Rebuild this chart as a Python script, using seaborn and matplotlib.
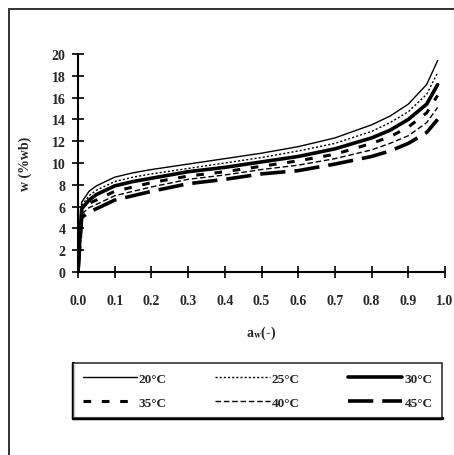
import numpy as np
import pandas as pd
import matplotlib
matplotlib.use("Agg")
import matplotlib.pyplot as plt
from matplotlib.lines import Line2D
import seaborn as sns

# ---- data ----
aw = [0, 0.01, 0.03, 0.05, 0.1, 0.15, 0.2, 0.3, 0.4, 0.5, 0.6, 0.7, 0.8, 0.85, 0.9, 0.95, 0.98]
w_20 = [0, 6.4, 7.4, 7.9, 8.7, 9.1, 9.4, 9.9, 10.4, 10.9, 11.5, 12.3, 13.5, 14.3, 15.4, 17.2, 19.4]
w_25 = [0, 6.1, 7.0, 7.5, 8.3, 8.7, 9.0, 9.5, 10.0, 10.5, 11.1, 11.8, 12.9, 13.7, 14.7, 16.3, 18.3]
w_30 = [0, 5.8, 6.6, 7.1, 7.9, 8.3, 8.6, 9.2, 9.6, 10.1, 10.6, 11.3, 12.3, 13.0, 14.0, 15.4, 17.2]
w_35 = [0, 5.6, 6.3, 6.6, 7.4, 7.8, 8.2, 8.8, 9.2, 9.7, 10.2, 10.8, 11.8, 12.4, 13.3, 14.6, 16.2]
w_40 = [0, 5.3, 5.9, 6.2, 7.0, 7.4, 7.8, 8.5, 8.9, 9.4, 9.8, 10.4, 11.2, 11.8, 12.5, 13.7, 15.1]
w_45 = [0, 5.0, 5.5, 5.8, 6.6, 7.0, 7.4, 8.1, 8.5, 9.0, 9.3, 9.9, 10.6, 11.1, 11.8, 12.8, 14.0]
labels = ["20°C", "25°C", "30°C", "35°C", "40°C", "45°C"]
x_ticks = [0.0, 0.1, 0.2, 0.3, 0.4, 0.5, 0.6, 0.7, 0.8, 0.9, 1.0]
y_ticks = [0, 2, 4, 6, 8, 10, 12, 14, 16, 18, 20]

series = [w_20, w_25, w_30, w_35, w_40, w_45]
styles = [
    dict(lw=1.0, ls="-"),
    dict(lw=1.0, ls=(0, (1.5, 1.5))),
    dict(lw=2.6, ls="-"),
    dict(lw=2.2, ls=(0, (2.5, 3.5))),
    dict(lw=1.0, ls=(0, (4, 2))),
    dict(lw=2.6, ls=(0, (7, 2.5))),
]

sns.set_style("ticks")
plt.rcParams['font.family'] = ['Liberation Serif', 'DejaVu Serif']
plt.rcParams['mathtext.fontset'] = 'stix'

fig = plt.figure(figsize=(4.54, 4.56), dpi=100)
ax = fig.add_axes([78/454, 1 - 273/456, 367/454, 218/456])

for vals, lab, st in zip(series, labels, styles):
    sns.lineplot(x=aw, y=vals, ax=ax, color="black", linewidth=st["lw"],
                 linestyle=st["ls"], legend=False, estimator=None, sort=False)

ax.set_xlim(0, 1.0)
ax.set_ylim(0, 20)
ax.set_xticks(x_ticks)
ax.set_xticklabels([f"{t:.1f}" for t in x_ticks], fontsize=10, fontweight="bold")
ax.set_yticks(y_ticks)
ax.set_yticklabels([str(t) for t in y_ticks], fontsize=10, fontweight="bold")
ax.tick_params(direction="inout", length=8, width=1.2, color="black", pad=5)
ax.tick_params(axis="x", pad=12)
for side in ["top", "right"]:
    ax.spines[side].set_visible(False)
for side in ["left", "bottom"]:
    ax.spines[side].set_color("black")
    ax.spines[side].set_linewidth(1.5)
ax.set_xlabel("a$_{\\mathbf{w}}$(-)", fontsize=10, fontweight="bold", labelpad=12)
ax.set_ylabel("w (%wb)", fontsize=10, fontweight="bold", labelpad=14)
ax.patch.set_alpha(0)

# legend
handles = [Line2D([0], [0], color="black", linewidth=st["lw"], linestyle=st["ls"]) for st in styles]
order = [0, 3, 1, 4, 2, 5]
leg = fig.legend([handles[i] for i in order], [labels[i] for i in order], ncol=3,
                 loc="center", bbox_to_anchor=(257.5/454, 1 - 391.5/456),
                 prop=dict(family="Liberation Serif", weight="bold", size=9.5),
                 frameon=True, fancybox=False, edgecolor="black",
                 handlelength=4.1, handletextpad=0.15, columnspacing=3.7,
                 borderpad=0.7, labelspacing=0.9, borderaxespad=0)
leg.get_frame().set_linewidth(1.2)

fig.canvas.draw()
bb = leg.get_window_extent()
W, H = fig.bbox.width, fig.bbox.height
x0, y0, x1, y1 = bb.x0 / W, bb.y0 / H, bb.x1 / W, bb.y1 / H
fig.add_artist(Line2D([x0, x0], [y0, y1], transform=fig.transFigure, color="black", lw=2.5))
fig.add_artist(Line2D([x0, x1], [y0, y0], transform=fig.transFigure, color="black", lw=2.5))

# outer border
fig.add_artist(Line2D([9/454, 1.0], [1 - 10/456, 1 - 10/456], transform=fig.transFigure, color="#333333", lw=1.4))
fig.add_artist(Line2D([9/454, 9/454], [0, 1 - 10/456], transform=fig.transFigure, color="#333333", lw=1.4))

fig.savefig("out.png", dpi=100)
